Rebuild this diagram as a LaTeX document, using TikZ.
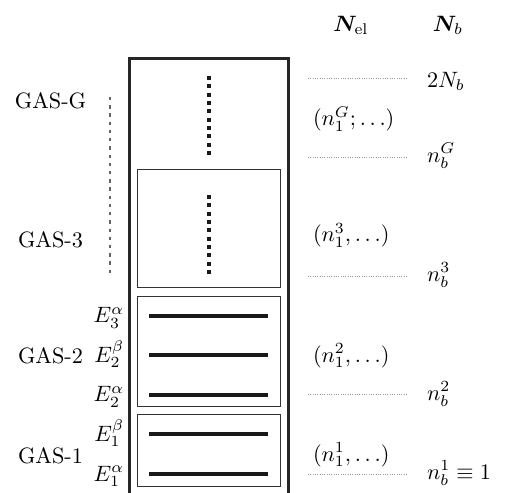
\documentclass[tikz,border=0pt]{standalone}
\usepackage{amsmath}
\usepackage{bm}
\begin{document}
\begin{tikzpicture}[x=0.45pt,y=-0.45pt,
  lbl/.style={inner sep=0pt,outer sep=0pt},
  outerbox/.style={line width=1.1pt,black!85},
  innerbox/.style={line width=0.5pt,black!80},
  level/.style={line width=1.8pt,black!90},
  vdots/.style={line width=1.8pt,black!90,dash pattern=on 1.8pt off 1.95pt},
  leftdash/.style={line width=0.9pt,black!60,dash pattern=on 1.5pt off 2.2pt},
  guide/.style={line width=0.35pt,black!40,dash pattern=on 0.35pt off 0.7pt}]
\useasboundingbox (0,0) rectangle (505,493);
% outer box (open at bottom)
\coordinate (obl) at (129.5,494);
\coordinate (obtl) at (129.5,58.5);
\coordinate (obtr) at (288.5,58.5);
\coordinate (obr) at (288.5,494);
\draw[outerbox] (obl) -- (obtl) -- (obtr) -- (obr);
% inner boxes
\draw[innerbox] (137.5,169.5) rectangle (280.5,287.5);
\draw[innerbox] (137.5,296.5) rectangle (280.5,406.5);
\draw[innerbox] (137.5,414.5) rectangle (280.5,486.5);
% levels
\foreach \yy/\nm in {315.7/l3a,355.3/l2b,394.7/l2a,434.3/l1b,474/l1a}{
  \coordinate (\nm w) at (149,\yy);
  \coordinate (\nm e) at (268,\yy);
  \draw[level] (\nm w) -- (\nm e);
}
% vertical thick dots
\coordinate (dg1) at (208.5,76);
\coordinate (dg2) at (208.5,159);
\coordinate (d31) at (208.5,195);
\coordinate (d32) at (208.5,278);
\draw[vdots] (dg1) -- (dg2);
\draw[vdots] (d31) -- (d32);
% left dashed line
\coordinate (ld1) at (110,97);
\coordinate (ld2) at (110,276);
\draw[leftdash] (ld1) -- (ld2);
% guide lines
\foreach \yy/\nm in {78/g1,157/g2,276/g3,394.7/g4,474/g5}{
  \coordinate (\nm w) at (308,\yy);
  \coordinate (\nm e) at (407,\yy);
  \draw[guide] (\nm w) -- (\nm e);
}
% headers
\node[lbl,anchor=base] (nel) at (351,31) {$\bm{N}_{\mathrm{el}}$};
\node[lbl,anchor=base] (nb) at (448,31) {$\bm{N}_{b}$};
% right labels
\node[lbl,anchor=base west] (r1) at (427,87) {$2N_b$};
\node[lbl,anchor=base west] (r2) at (427,162) {$n_b^G$};
\node[lbl,anchor=base west] (r3) at (427,281) {$n_b^3$};
\node[lbl,anchor=base west] (r4) at (427,400) {$n_b^2$};
\node[lbl,anchor=base west] (r5) at (427,479) {$n_b^1\equiv 1$};
% occupation labels
\node[lbl,anchor=base west] (o1) at (313,125.5) {$(n_1^G;\ldots)$};
\node[lbl,anchor=base west] (o2) at (313,241.5) {$(n_1^3,\ldots)$};
\node[lbl,anchor=base west] (o3) at (313,362) {$(n_1^2,\ldots)$};
\node[lbl,anchor=base west] (o4) at (313,461) {$(n_1^1,\ldots)$};
% GAS labels
\node[lbl,anchor=base] (gg) at (50.5,108) {GAS-G};
\node[lbl,anchor=base] (g3) at (50.5,247) {GAS-3};
\node[lbl,anchor=base] (g2) at (50.5,363) {GAS-2};
\node[lbl,anchor=base] (g1) at (50.5,463) {GAS-1};
% E labels
\node[lbl,anchor=base east] (e3a) at (124,322.5) {$E_3^{\alpha}$};
\node[lbl,anchor=base east] (e2b) at (124,362) {$E_2^{\beta}$};
\node[lbl,anchor=base east] (e2a) at (124,401.5) {$E_2^{\alpha}$};
\node[lbl,anchor=base east] (e1b) at (124,441) {$E_1^{\beta}$};
\node[lbl,anchor=base east] (e1a) at (124,481) {$E_1^{\alpha}$};
\end{tikzpicture}
\end{document}
